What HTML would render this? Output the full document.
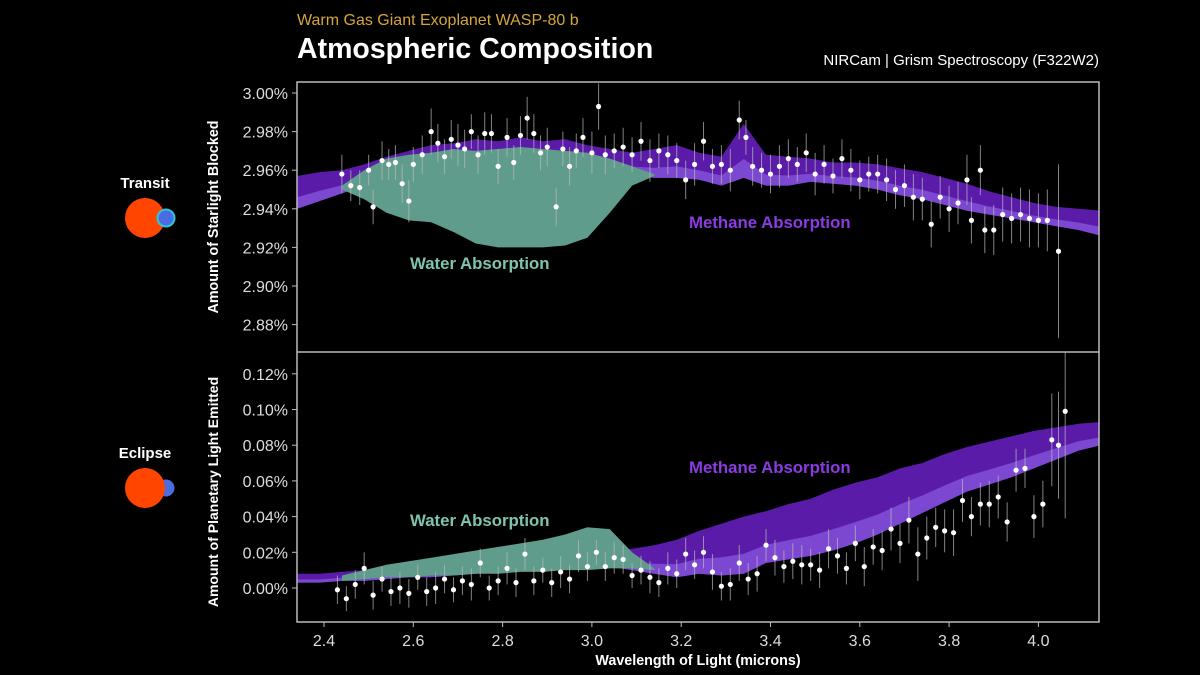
<!DOCTYPE html>
<html><head><meta charset="utf-8"><style>
html,body{margin:0;padding:0;background:#000;}
svg{display:block;font-family:"Liberation Sans",sans-serif;}
</style></head><body>
<svg id="chart" width="1200" height="675" viewBox="0 0 1200 675" xmlns="http://www.w3.org/2000/svg">
<rect width="1200" height="675" fill="#000"/>
<text x="297" y="25" font-size="16" fill="#d6a53c">Warm Gas Giant Exoplanet WASP-80 b</text>
<text x="297" y="58" font-size="28.5" font-weight="bold" fill="#fff">Atmospheric Composition</text>
<text x="1099" y="65" font-size="15" fill="#fff" text-anchor="end">NIRCam | Grism Spectroscopy (F322W2)</text>
<g>
<text x="145" y="188" font-size="15" font-weight="bold" fill="#fff" text-anchor="middle">Transit</text>
<circle cx="145" cy="218" r="20" fill="#ff4500"/>
<circle cx="166" cy="218" r="8.5" fill="#4a6ce0" stroke="#2ec4d8" stroke-width="2"/>
</g>
<g>
<text x="145" y="458" font-size="15" font-weight="bold" fill="#fff" text-anchor="middle">Eclipse</text>
<circle cx="166" cy="488" r="8.5" fill="#4a6ce0"/>
<circle cx="145" cy="488" r="20" fill="#ff4500"/>
</g>
<g id="plot"></g>
</svg>
<script>
const bandX = [2.34,2.39,2.44,2.49,2.54,2.59,2.64,2.69,2.74,2.79,2.84,2.89,2.94,2.99,3.04,3.09,3.14,3.19,3.24,3.29,3.34,3.39,3.44,3.49,3.54,3.59,3.64,3.69,3.74,3.79,3.84,3.89,3.94,3.99,4.04,4.09,4.14];
const topMethaneHi = [2.957,2.959,2.960,2.963,2.967,2.970,2.973,2.974,2.976,2.975,2.977,2.975,2.976,2.973,2.971,2.969,2.971,2.973,2.969,2.967,2.984,2.968,2.967,2.966,2.964,2.964,2.963,2.961,2.959,2.956,2.953,2.949,2.946,2.943,2.941,2.940,2.939];
const topMethaneLo = [2.940,2.944,2.948,2.952,2.956,2.958,2.960,2.962,2.962,2.962,2.962,2.962,2.962,2.960,2.960,2.958,2.956,2.956,2.955,2.952,2.956,2.952,2.952,2.954,2.953,2.952,2.950,2.947,2.945,2.942,2.939,2.937,2.935,2.933,2.931,2.929,2.926];
const waterX = [2.44,2.49,2.54,2.59,2.64,2.69,2.74,2.79,2.84,2.89,2.94,2.99,3.04,3.09,3.14];
const topWaterHi = [2.952,2.960,2.966,2.968,2.969,2.971,2.970,2.971,2.972,2.971,2.970,2.969,2.966,2.962,2.958];
const topWaterLo = [2.950,2.945,2.938,2.934,2.933,2.928,2.922,2.920,2.920,2.920,2.921,2.925,2.938,2.952,2.957];
const botMethaneHi = [0.008,0.008,0.009,0.010,0.011,0.012,0.013,0.014,0.015,0.016,0.017,0.018,0.019,0.020,0.021,0.022,0.024,0.027,0.032,0.036,0.040,0.043,0.047,0.050,0.055,0.059,0.062,0.067,0.070,0.075,0.079,0.082,0.085,0.088,0.090,0.092,0.093];
const botMethaneLo = [0.003,0.003,0.004,0.004,0.005,0.006,0.006,0.007,0.008,0.009,0.010,0.011,0.012,0.013,0.012,0.010,0.008,0.006,0.008,0.007,0.008,0.014,0.016,0.018,0.021,0.025,0.030,0.036,0.042,0.048,0.054,0.058,0.062,0.067,0.072,0.077,0.080];
const botWaterHi = [0.007,0.010,0.013,0.015,0.017,0.019,0.021,0.023,0.025,0.027,0.030,0.034,0.033,0.020,0.011];
const botWaterLo = [0.004,0.005,0.006,0.006,0.007,0.007,0.008,0.008,0.009,0.009,0.010,0.010,0.011,0.011,0.010];
const topPtX = [2.44,2.46,2.48,2.50,2.51,2.53,2.545,2.56,2.575,2.59,2.60,2.62,2.64,2.655,2.67,2.685,2.70,2.715,2.73,2.745,2.76,2.775,2.79,2.81,2.825,2.84,2.855,2.87,2.885,2.90,2.92,2.935,2.95,2.965,2.98,3.00,3.015,3.03,3.05,3.07,3.09,3.11,3.13,3.15,3.17,3.19,3.21,3.23,3.25,3.27,3.29,3.31,3.33,3.345,3.36,3.38,3.40,3.42,3.44,3.46,3.48,3.50,3.52,3.54,3.56,3.58,3.60,3.62,3.64,3.66,3.68,3.70,3.72,3.74,3.76,3.78,3.80,3.82,3.84,3.85,3.87,3.88,3.90,3.92,3.94,3.96,3.98,4.00,4.02,4.045];
const topPtY = [2.958,2.952,2.951,2.960,2.941,2.965,2.963,2.964,2.953,2.944,2.963,2.968,2.980,2.974,2.967,2.976,2.973,2.971,2.980,2.968,2.979,2.979,2.962,2.977,2.964,2.978,2.987,2.979,2.969,2.972,2.941,2.971,2.962,2.970,2.977,2.969,2.993,2.968,2.970,2.972,2.968,2.975,2.965,2.970,2.968,2.965,2.955,2.963,2.975,2.962,2.963,2.960,2.986,2.977,2.962,2.960,2.958,2.962,2.966,2.963,2.969,2.958,2.963,2.957,2.966,2.960,2.955,2.958,2.958,2.955,2.950,2.952,2.946,2.945,2.932,2.946,2.940,2.943,2.955,2.934,2.960,2.929,2.929,2.937,2.935,2.937,2.935,2.934,2.934,2.918];
const topPtErr = [0.010,0.008,0.009,0.008,0.009,0.010,0.008,0.009,0.010,0.011,0.009,0.010,0.012,0.010,0.009,0.010,0.011,0.010,0.009,0.010,0.011,0.010,0.009,0.010,0.009,0.010,0.011,0.010,0.009,0.010,0.010,0.009,0.010,0.009,0.010,0.011,0.012,0.010,0.009,0.010,0.009,0.010,0.011,0.009,0.010,0.009,0.010,0.011,0.010,0.009,0.010,0.011,0.010,0.009,0.010,0.009,0.010,0.011,0.010,0.009,0.010,0.011,0.010,0.009,0.010,0.011,0.010,0.009,0.010,0.011,0.010,0.011,0.012,0.011,0.012,0.011,0.012,0.011,0.013,0.012,0.013,0.012,0.013,0.014,0.013,0.014,0.015,0.014,0.016,0.045];
const botPtX = [2.43,2.45,2.47,2.49,2.51,2.53,2.55,2.57,2.59,2.61,2.63,2.65,2.67,2.69,2.71,2.73,2.75,2.77,2.79,2.81,2.83,2.85,2.87,2.89,2.91,2.93,2.95,2.97,2.99,3.01,3.03,3.05,3.07,3.09,3.11,3.13,3.15,3.17,3.19,3.21,3.23,3.25,3.27,3.29,3.31,3.33,3.35,3.37,3.39,3.41,3.43,3.45,3.47,3.49,3.51,3.53,3.55,3.57,3.59,3.61,3.63,3.65,3.67,3.69,3.71,3.73,3.75,3.77,3.79,3.81,3.83,3.85,3.87,3.89,3.91,3.93,3.95,3.97,3.99,4.01,4.03,4.045,4.06];
const botPtY = [-0.001,-0.006,0.002,0.011,-0.004,0.005,-0.002,0.000,-0.003,0.006,-0.002,0.000,0.005,-0.001,0.004,0.002,0.014,0.000,0.004,0.011,0.003,0.019,0.004,0.010,0.003,0.009,0.005,0.018,0.012,0.020,0.012,0.017,0.016,0.007,0.010,0.006,0.003,0.011,0.008,0.019,0.013,0.020,0.009,0.001,0.002,0.014,0.005,0.008,0.024,0.017,0.012,0.015,0.013,0.013,0.010,0.022,0.018,0.011,0.025,0.012,0.023,0.021,0.033,0.025,0.038,0.019,0.028,0.034,0.032,0.031,0.049,0.040,0.047,0.047,0.051,0.037,0.066,0.067,0.040,0.047,0.083,0.080,0.099];
const botPtErr = [0.008,0.007,0.008,0.009,0.008,0.007,0.008,0.009,0.008,0.007,0.008,0.009,0.008,0.007,0.008,0.009,0.008,0.007,0.008,0.009,0.008,0.009,0.008,0.007,0.008,0.009,0.008,0.009,0.008,0.007,0.008,0.009,0.008,0.007,0.008,0.009,0.008,0.009,0.008,0.009,0.008,0.009,0.010,0.008,0.009,0.010,0.009,0.010,0.009,0.010,0.009,0.010,0.011,0.009,0.010,0.011,0.010,0.009,0.010,0.011,0.010,0.011,0.012,0.011,0.013,0.015,0.012,0.011,0.012,0.013,0.012,0.011,0.012,0.013,0.012,0.011,0.012,0.011,0.012,0.013,0.026,0.030,0.060];
const xTicks = [2.4,2.6,2.8,3.0,3.2,3.4,3.6,3.8,4.0];
const xTickLabels = ["2.4","2.6","2.8","3.0","3.2","3.4","3.6","3.8","4.0"];
const topTicks = [3.00,2.98,2.96,2.94,2.92,2.90,2.88];
const topTickLabels = ["3.00%","2.98%","2.96%","2.94%","2.92%","2.90%","2.88%"];
const botTicks = [0.12,0.10,0.08,0.06,0.04,0.02,0.00];
const botTickLabels = ["0.12%","0.10%","0.08%","0.06%","0.04%","0.02%","0.00%"];

const NS="http://www.w3.org/2000/svg";
const plot=document.getElementById('plot');
const L=297,R=1099,T=82,M=352,B=622;
function xs(v){return 324+(v-2.4)/0.2*89.3;}
function yTop(v){return 93+(3.00-v)/0.02*38.6;}
function yBot(v){return 588+(0.00-v)/0.02*35.7;}
function mk(tag,attrs,parent){const e=document.createElementNS(NS,tag);for(const k in attrs)e.setAttribute(k,attrs[k]);(parent||plot).appendChild(e);return e;}
function bandPath(xa,lo,hi,ys){let d='';for(let i=0;i<xa.length;i++)d+=(i?'L':'M')+xs(xa[i]).toFixed(1)+','+ys(hi[i]).toFixed(1);for(let i=xa.length-1;i>=0;i--)d+='L'+xs(xa[i]).toFixed(1)+','+ys(lo[i]).toFixed(1);return d+'Z';}
const defs=mk('defs',{});
const c1=mk('clipPath',{id:'ct'},defs);mk('rect',{x:L,y:T,width:R-L,height:M-T},c1);
const c2=mk('clipPath',{id:'cb'},defs);mk('rect',{x:L,y:M,width:R-L,height:B-M},c2);

function panel(clip,ys,mLo,mHi,wLo,wHi,px,py,pe,nm){
  const g=mk('g',{'clip-path':'url(#'+clip+')'});
  
  
  const mb=mk('path',{d:bandPath(bandX,mLo,mHi,ys),fill:'#5a1ca8'},g);
  
  
  const lightHi=mLo.map((v,i)=>v+(mHi[i]-v)*0.35);
  const lb=mk('path',{d:bandPath(bandX,mLo,lightHi,ys),fill:'#8450d8',opacity:0.85},g);
  
  
  const wb=mk('path',{d:bandPath(waterX,wLo,wHi,ys),fill:'#5f9c8c'},g);
  
  
  for(let i=0;i<px.length;i++){
    const x=xs(px[i]);
    const eb=mk('line',{x1:x,x2:x,y1:ys(py[i]+pe[i]),y2:ys(py[i]-pe[i]),stroke:'#bbb','stroke-width':1,opacity:0.7},g);
    
    
    const p=mk('circle',{cx:x,cy:ys(py[i]),r:2.6,fill:'#fff'},g);
    
    
  }
}
panel('ct',yTop,topMethaneLo,topMethaneHi,topWaterLo,topWaterHi,topPtX,topPtY,topPtErr,'transit');
panel('cb',yBot,botMethaneLo,botMethaneHi,botWaterLo,botWaterHi,botPtX,botPtY,botPtErr,'eclipse');

const fr=mk('rect',{x:L,y:T,width:R-L,height:B-T,fill:'none',stroke:'#bbb','stroke-width':1.5});


const dv=mk('line',{x1:L,x2:R,y1:M,y2:M,stroke:'#bbb','stroke-width':1.5});



function ytick(ticks,labels,ys,nm){
  for(let i=0;i<ticks.length;i++){
    const y=ys(ticks[i]);
    mk('line',{x1:L-5,x2:L,y1:y,y2:y,stroke:'#bbb','stroke-width':1});
    const t=mk('text',{x:L-9,y:y+6,'font-size':16,fill:'#ddd','text-anchor':'end'});
    t.textContent=labels[i];
    
    
  }
}
ytick(topTicks,topTickLabels,yTop,'transit-y');
ytick(botTicks,botTickLabels,yBot,'eclipse-y');
for(let i=0;i<xTicks.length;i++){
  const x=xs(xTicks[i]);
  mk('line',{x1:x,x2:x,y1:B,y2:B+5,stroke:'#bbb','stroke-width':1});
  const t=mk('text',{x:x,y:B+24,'font-size':16,fill:'#ddd','text-anchor':'middle'});
  t.textContent=xTickLabels[i];
  
  
}
function label(txt,x,y,attrs,nm){const t=mk('text',Object.assign({x:x,y:y},attrs));t.textContent=txt;return t;}
label('Wavelength of Light (microns)',698,665,{'font-size':14.3,'font-weight':'bold',fill:'#fff','text-anchor':'middle'},'x-axis-title');
label('Amount of Starlight Blocked',0,0,{'font-size':14.3,'font-weight':'bold',fill:'#fff','text-anchor':'middle',transform:'translate(218,217) rotate(-90)'},'transit-y-axis-title');
label('Amount of Planetary Light Emitted',0,0,{'font-size':14,'font-weight':'bold',fill:'#fff','text-anchor':'middle',transform:'translate(218,492) rotate(-90)'},'eclipse-y-axis-title');
label('Water Absorption',410,269,{'font-size':16.8,'font-weight':'bold',fill:'#7fc4b0'},'transit-water-annotation');
label('Methane Absorption',689,228,{'font-size':16.8,'font-weight':'bold',fill:'#8a3be2'},'transit-methane-annotation');
label('Water Absorption',410,526,{'font-size':16.8,'font-weight':'bold',fill:'#7fc4b0'},'eclipse-water-annotation');
label('Methane Absorption',689,473,{'font-size':16.8,'font-weight':'bold',fill:'#8a3be2'},'eclipse-methane-annotation');
</script>
</body></html>
